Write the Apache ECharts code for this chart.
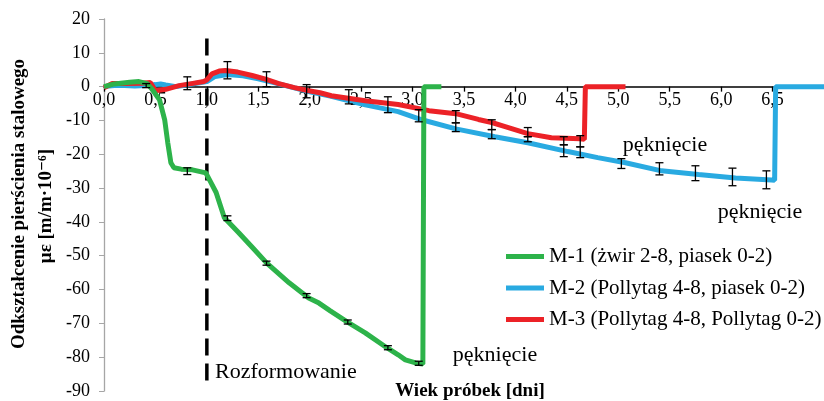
<!DOCTYPE html>
<html>
<head>
<meta charset="utf-8">
<script src="https://cdn.jsdelivr.net/npm/echarts@6/dist/echarts.min.js"></script>
<style>
  html, body { margin: 0; padding: 0; background: #fff; }
  #chart { width: 824px; height: 401px; }
</style>
</head>
<body>
<div id="chart"></div>
<script>
// M-1 (green)
var m1X = [0, 0.1, 0.25, 0.34, 0.42, 0.46, 0.54, 0.59, 0.62, 0.65, 0.68, 0.75, 0.86, 0.99, 1.04, 1.09, 1.17, 1.31, 1.45, 1.58, 1.8, 1.99, 2.09, 2.2, 2.36, 2.54, 2.75, 2.86, 2.93, 3.03, 3.1, 3.11, 3.28];
var m1Y = [0, 0.8, 1.3, 1.5, 0.9, -0.5, -3.9, -9.8, -16.6, -22.5, -24, -24.4, -24.6, -25.5, -28.4, -31.3, -38.8, -43.2, -47.8, -52.1, -58, -62.5, -64, -66.3, -69.5, -72.8, -77.2, -79.3, -80.8, -81.7, -82, 0, 0];
// M-2 (blue)
var m2X = [0, 0.1, 0.2, 0.3, 0.4, 0.5, 0.55, 0.6, 0.7, 0.8, 0.9, 1.0, 1.08, 1.2, 1.35, 1.5, 1.7, 2.0, 2.2, 2.54, 2.86, 3.09, 3.42, 3.8, 4.12, 4.51, 4.8, 5.07, 5.42, 5.78, 6.14, 6.49, 6.52, 6.53, 7.0];
var m2Y = [0, 0.3, 0.3, 0.2, 0.3, 0.6, 0.8, 0.5, 0, 0.5, 1.0, 1.5, 3.0, 3.6, 3.2, 2.3, 0.8, -1.5, -2.8, -5.4, -7.4, -9.8, -12.5, -14.8, -16.6, -19.2, -21, -22.5, -24.9, -26.0, -27.0, -27.6, -27.7, 0, 0];
// M-3 (red)
var m3X = [0, 0.08, 0.2, 0.37, 0.45, 0.5, 0.6, 0.73, 0.85, 0.97, 1.0, 1.05, 1.12, 1.18, 1.3, 1.44, 1.57, 1.7, 1.85, 1.99, 2.1, 2.21, 2.54, 2.86, 3.16, 3.42, 3.64, 3.77, 3.9, 4.12, 4.35, 4.63, 4.67, 4.68, 5.07];
var m3Y = [-0.3, 0.9, 0.9, 1.0, 1.2, -1.2, -0.8, 0.3, 0.9, 1.5, 2.0, 3.8, 4.6, 4.8, 4.3, 3.3, 2.2, 0.9, -0.3, -1.2, -1.8, -2.7, -4.2, -5.3, -7.1, -8.0, -9.7, -10.6, -11.8, -13.9, -15.1, -15.4, -15.6, 0, 0];

// error bars: [x, low, high]
var errM1 = [[0.81, -26, -24], [1.2, -39.6, -38.2], [1.58, -52.8, -51.6], [1.97, -62.4, -61.2], [2.37, -70.2, -69], [2.76, -77.8, -76.6], [3.06, -82.4, -81.2]];
var errM2 = [[0.41, -0.3, 0.9], [1.58, 0, 4.4], [2.76, -7.7, -3.0], [3.06, -10.4, -6.8], [3.42, -13.3, -10.7], [3.77, -15.4, -12.7], [4.12, -16.3, -14.8], [4.47, -20.7, -17.2], [4.63, -21.0, -17.8], [5.03, -24.2, -21.3], [5.40, -26.1, -22.5], [5.75, -27.8, -23.4], [6.11, -29.3, -24.1], [6.44, -30.2, -24.9]];
var errM3 = [[0.81, -0.9, 2.9], [1.2, 2.3, 7.4], [1.97, -3.3, 0.6], [2.38, -5.1, -0.9], [3.42, -10.7, -7.1], [3.77, -12.7, -9.8], [4.12, -14.8, -12.1], [4.47, -17.2, -14.8], [4.63, -17.8, -14.5]];

var names = ['M-1 (żwir 2-8, piasek 0-2)', 'M-2 (Pollytag 4-8, piasek 0-2)', 'M-3 (Pollytag 4-8, Pollytag 0-2)'];
var colors = ['#2db34a', '#29aae1', '#ec2227'];
var demouldX = 1.0;
var demouldY = [14.2, -88.8];

var serif = "'Liberation Serif', 'DejaVu Serif', serif";
var yMin = -90, yMax = 20;
var gridH = 372;

function zip(xs, ys) {
    return xs.map(function (x, i) { return [x, ys[i]]; });
}

function errBar(params, api) {
    var x = api.value(0);
    var top = api.coord([x, api.value(2)]);
    var bot = api.coord([x, api.value(1)]);
    var w = 4;
    var st = { stroke: '#000', lineWidth: 1.3 };
    return {
        type: 'group',
        children: [
            { type: 'line', shape: { x1: top[0], y1: top[1], x2: bot[0], y2: bot[1] }, style: st },
            { type: 'line', shape: { x1: top[0] - w, y1: top[1], x2: top[0] + w, y2: top[1] }, style: st },
            { type: 'line', shape: { x1: bot[0] - w, y1: bot[1], x2: bot[0] + w, y2: bot[1] }, style: st }
        ]
    };
}

function lineSeries(i, data, z) {
    return {
        name: names[i], type: 'line', data: data, symbol: 'none', z: z,
        lineStyle: { color: colors[i], width: 5 }, itemStyle: { color: colors[i] },
        silent: true
    };
}

function errSeries(data) {
    return {
        type: 'custom', renderItem: errBar, data: data, z: 10, silent: true,
        encode: { x: 0, y: [1, 2] }
    };
}

var chart = echarts.init(document.getElementById('chart'));
chart.setOption({
    animation: false,
    grid: { left: 104, top: 19, right: 0, height: gridH },
    xAxis: {
        type: 'value', min: 0, max: 7, interval: 0.5,
        // put the axis at y = 0
        offset: -gridH * (0 - yMin) / (yMax - yMin),
        axisLine: { onZero: false, lineStyle: { color: '#000', width: 1.5 } },
        axisTick: { show: true, length: 5, lineStyle: { color: '#000', width: 1.3 } },
        axisLabel: {
            color: '#000', fontFamily: serif, fontSize: 18, margin: 5, showMaxLabel: false,
            formatter: function (v) { return v.toFixed(1).replace('.', ','); }
        },
        splitLine: { show: false }
    },
    yAxis: {
        type: 'value', min: yMin, max: yMax, interval: 10,
        axisLine: { show: true, onZero: false, lineStyle: { color: '#a6a6a6', width: 1.3 } },
        axisTick: { show: true, length: 5, lineStyle: { color: '#a6a6a6' } },
        axisLabel: { color: '#000', fontFamily: serif, fontSize: 18, margin: 14 },
        splitLine: { show: false }
    },
    legend: {
        data: names, orient: 'vertical', left: 506, top: 246, padding: 0,
        icon: 'rect', itemWidth: 38, itemHeight: 5, itemGap: 10.5,
        textStyle: { color: '#000', fontFamily: serif, fontSize: 21, lineHeight: 21 }
    },
    graphic: [
        { type: 'text', x: 19, y: 204, rotation: Math.PI / 2, style: { text: 'Odkształcenie pierścienia stalowego', font: 'bold 19px ' + serif, fill: '#000', textAlign: 'center', textVerticalAlign: 'middle' } },
        { type: 'text', x: 46, y: 206, rotation: Math.PI / 2, style: { text: 'με [m/m·10⁻⁶]', font: 'bold 19px ' + serif, fill: '#000', textAlign: 'center', textVerticalAlign: 'middle' } },
        { type: 'text', x: 470, y: 391, style: { text: 'Wiek próbek [dni]', font: 'bold 19px ' + serif, fill: '#000', textAlign: 'center', textVerticalAlign: 'middle' } },
        { type: 'text', x: 215, y: 372, style: { text: 'Rozformowanie', font: '22px ' + serif, fill: '#000', textAlign: 'left', textVerticalAlign: 'middle' } },
        { type: 'text', x: 495, y: 355, style: { text: 'pęknięcie', font: '22px ' + serif, fill: '#000', textAlign: 'center', textVerticalAlign: 'middle' } },
        { type: 'text', x: 665, y: 145, style: { text: 'pęknięcie', font: '22px ' + serif, fill: '#000', textAlign: 'center', textVerticalAlign: 'middle' } },
        { type: 'text', x: 760, y: 212, style: { text: 'pęknięcie', font: '22px ' + serif, fill: '#000', textAlign: 'center', textVerticalAlign: 'middle' } }
    ],
    series: [
        {
            type: 'line', data: [[demouldX, demouldY[0]], [demouldX, demouldY[1]]], symbol: 'none', silent: true, z: 1,
            lineStyle: { color: '#000', width: 3.5, type: [17, 8] }
        },
        lineSeries(1, zip(m2X, m2Y), 2),
        lineSeries(2, zip(m3X, m3Y), 3),
        lineSeries(0, zip(m1X, m1Y), 4),
        errSeries(errM1),
        errSeries(errM2),
        errSeries(errM3)
    ]
});
</script>
</body>
</html>
